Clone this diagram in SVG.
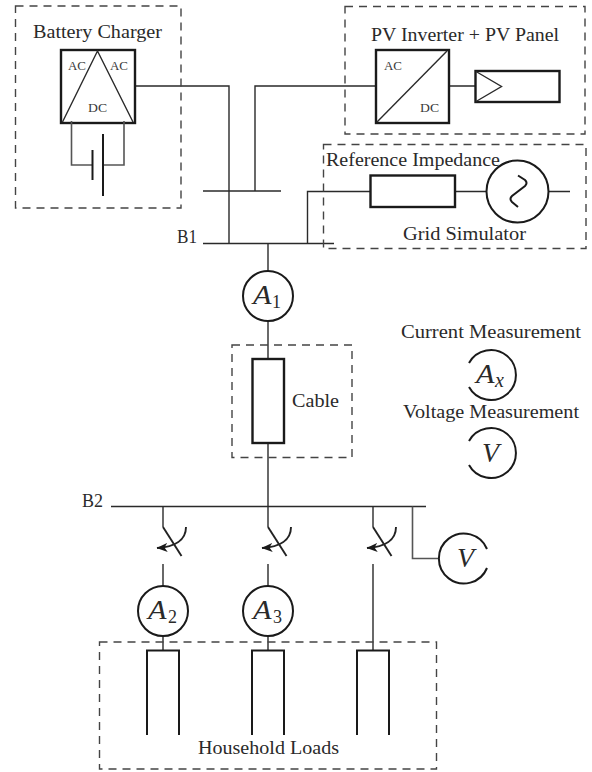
<svg xmlns="http://www.w3.org/2000/svg" width="592" height="772" viewBox="0 0 592 772">
<style>
text{font-family:"Liberation Serif","Times New Roman",serif;fill:#2a2a2a}
.l{font-size:19px}
.s{font-size:13px;fill:#3a3a3a}
.m{font-size:28px;font-style:italic}
.sub{font-size:18px}
.subi{font-size:20px;font-style:italic}
.d{fill:none;stroke:#444;stroke-width:1.4;stroke-dasharray:8 6}
.w{fill:none;stroke:#2a2a2a;stroke-width:1.4}
.g{fill:none;stroke:#555;stroke-width:1.6}
.t{fill:#fff;stroke:#1a1a1a;stroke-width:2.4}
.o{fill:#fff;stroke:#1a1a1a;stroke-width:2}
.a{fill:none;stroke:#1a1a1a;stroke-width:2}
.n{fill:none;stroke:#1a1a1a;stroke-width:2}
.sw{fill:none;stroke:#222;stroke-width:1.9}
</style>
<defs>
<marker id="ah" viewBox="0 0 11 9" refX="10.500" refY="4.500" markerWidth="11" markerHeight="9" markerUnits="userSpaceOnUse" orient="auto"><path d="M0 0L11 4.500L0 9L3 4.500Z" fill="#1a1a1a"/></marker>
<g id="switch">
<path class="w" d="M0 0V21"/>
<path class="sw" d="M0 21L18.500 50"/>
<path class="sw" d="M23 21C23 34 12 41 -6 42" marker-end="url(#ah)"/>
</g>
<g id="load"><path class="n" d="M-16 735V650.500H16V735"/></g>
</defs>
<g id="connectors">
<path class="w" d="M135 86H229V243.500"/>
<path class="w" d="M203 191H281"/>
<path class="w" d="M255 191V86H376"/>
<path class="w" d="M203 243.500H334"/>
<path class="w" d="M307.500 243.500V191.500H370"/>
<path class="w" d="M268 243.500V271"/>
<path class="w" d="M268 321V359"/>
<path class="w" d="M268 443V506"/>
<path class="w" d="M111 506.500H426"/>
<path class="g" d="M412.500 506.500V558.500H439"/>
<path class="w" d="M163 564V586M268 564V586M163 636V650M268 636V650M373 564V650"/>
<path class="w" d="M449 86H475M455 191.500H486M549 191.500H570"/>
</g>
<g id="battery-charger">
<rect class="d" x="15.500" y="6" width="165.500" height="202"/>
<text class="l" x="33" y="38" textLength="129" lengthAdjust="spacingAndGlyphs">Battery Charger</text>
<rect class="t" x="61" y="50" width="74" height="73"/>
<path class="w" d="M62.500 122L97.500 51L133 122"/>
<text class="s" x="68" y="70" textLength="18" lengthAdjust="spacingAndGlyphs">AC</text>
<text class="s" x="110" y="70" textLength="18" lengthAdjust="spacingAndGlyphs">AC</text>
<text class="s" x="88" y="112" textLength="19" lengthAdjust="spacingAndGlyphs">DC</text>
<path class="g" d="M71.500 121V165H92M103.500 165H124V121"/>
<path class="n" d="M92.500 150V180"/>
<path class="n" d="M103 134V196"/>
</g>
<g id="pv-inverter">
<rect class="d" x="345" y="6.500" width="240" height="127.500"/>
<text class="l" x="371" y="41" textLength="188" lengthAdjust="spacingAndGlyphs">PV Inverter + PV Panel</text>
<rect class="t" x="376" y="50" width="73" height="73"/>
<path class="w" d="M377 122L447 51"/>
<text class="s" x="384" y="70" textLength="18" lengthAdjust="spacingAndGlyphs">AC</text>
<text class="s" x="420" y="112" textLength="19" lengthAdjust="spacingAndGlyphs">DC</text>
<rect class="t" x="475.500" y="71" width="84" height="31"/>
<path class="w" d="M476 71.500L501.500 86.500L476 101.500"/>
</g>
<g id="grid-simulator">
<rect class="d" x="323.500" y="144.500" width="262.500" height="104"/>
<text class="l" x="326" y="166" textLength="174" lengthAdjust="spacingAndGlyphs">Reference Impedance</text>
<text class="l" x="403" y="240" textLength="123" lengthAdjust="spacingAndGlyphs">Grid Simulator</text>
<rect class="t" x="370.500" y="175.500" width="84.500" height="31.500"/>
<circle class="o" cx="517.500" cy="191.500" r="31"/>
<path class="n" d="M518 175.500L525 180Q528 183 525 186L512 196Q509 199 512 202L518 207"/>
</g>
<g id="a1">
<circle class="o" cx="268" cy="296" r="25"/>
<text class="m" x="253" y="304" textLength="18.500" lengthAdjust="spacingAndGlyphs">A</text><text class="sub" x="272" y="308">1</text>
</g>
<g id="cable">
<rect class="d" x="232" y="345" width="120" height="112.500"/>
<rect class="t" x="252.500" y="359" width="31.500" height="84"/>
<text class="l" x="292" y="407" textLength="47" lengthAdjust="spacingAndGlyphs">Cable</text>
</g>
<g id="legend-current">
<text class="l" x="401" y="338" textLength="180" lengthAdjust="spacingAndGlyphs">Current Measurement</text>
<path class="a" d="M469 363A25 25 0 1 1 469 387"/>
<text class="m" x="476" y="383" textLength="18.500" lengthAdjust="spacingAndGlyphs">A</text><text class="subi" x="495" y="387">x</text>
</g>
<g id="legend-voltage">
<text class="l" x="403" y="418" textLength="176" lengthAdjust="spacingAndGlyphs">Voltage Measurement</text>
<path class="a" d="M469 441A25 25 0 1 1 469 465"/>
<text class="m" x="482" y="462">V</text>
</g>
<g id="b1"><text class="l" x="177" y="243" textLength="20" lengthAdjust="spacingAndGlyphs">B1</text></g>
<g id="b2"><text class="l" x="82" y="507" textLength="21" lengthAdjust="spacingAndGlyphs">B2</text></g>
<g id="switches">
<use href="#switch" x="163" y="506"/>
<use href="#switch" x="268" y="506"/>
<use href="#switch" x="373" y="506"/>
</g>
<g id="a2">
<circle class="o" cx="163" cy="611" r="25"/>
<text class="m" x="148" y="619" textLength="18.500" lengthAdjust="spacingAndGlyphs">A</text><text class="sub" x="168" y="623">2</text>
</g>
<g id="a3">
<circle class="o" cx="268" cy="611" r="25"/>
<text class="m" x="253" y="619" textLength="18.500" lengthAdjust="spacingAndGlyphs">A</text><text class="sub" x="273" y="623">3</text>
</g>
<g id="v-meter">
<path class="a" d="M487 549A25 25 0 1 0 487 568"/>
<text class="m" x="457" y="567">V</text>
</g>
<g id="household-loads">
<rect class="d" x="99.500" y="642" width="337" height="127"/>
<use href="#load" x="163" y="0"/>
<use href="#load" x="268" y="0"/>
<use href="#load" x="373" y="0"/>
<text class="l" x="198" y="754" textLength="141" lengthAdjust="spacingAndGlyphs">Household Loads</text>
</g>
</svg>
